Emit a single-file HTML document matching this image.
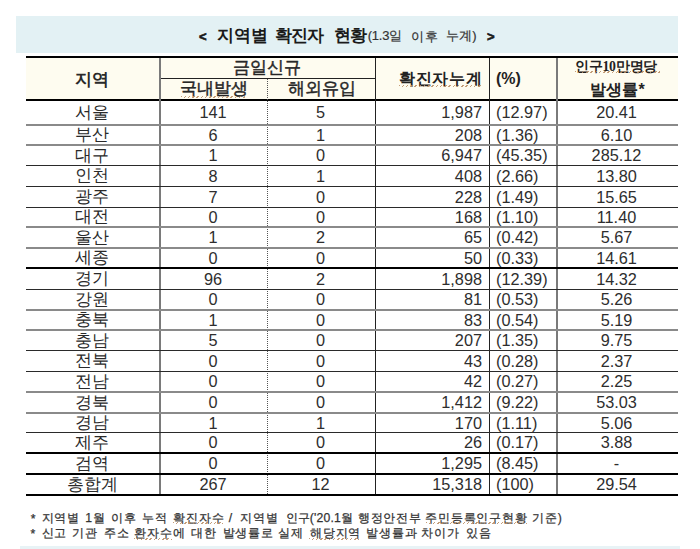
<!DOCTYPE html>
<html><head><meta charset="utf-8"><style>
*{margin:0;padding:0;box-sizing:border-box}
html,body{width:700px;height:549px;background:#fff;overflow:hidden}
body{position:relative;font-family:"Liberation Sans",sans-serif;color:#222}
.a{position:absolute;white-space:nowrap}
.hl{position:absolute;left:26px;width:652px}
.vl{position:absolute}
.c{position:absolute;white-space:nowrap;text-align:center}
.k{font-size:17px;color:#2a2a2a}
.n{font-size:16.3px;color:#2e2e2e}
.u{position:absolute;height:2px;background:repeating-linear-gradient(135deg,#b98c62 0 1px,rgba(255,255,255,0) 1px 3px);opacity:.85}
.m{-webkit-text-stroke:0.45px #222}
.b{font-weight:bold}
</style></head><body>
<div class="a" style="left:16px;top:16px;width:662px;height:37px;background:#e3f1f4"></div>
<div class="a" style="left:26px;top:58px;width:652px;height:41px;background:#fefcf0"></div>
<div class="a" style="left:30.7px;top:512.0px;font-size:12.2px;letter-spacing:0.8px;-webkit-text-stroke:0.25px #333;color:#333">*</div>
<div class="a" style="left:41.5px;top:510.0px;font-size:12.2px;letter-spacing:0.8px;-webkit-text-stroke:0.25px #333;color:#333">지역별</div>
<div class="a" style="left:85.2px;top:510.0px;font-size:12.2px;letter-spacing:0.8px;-webkit-text-stroke:0.25px #333;color:#333">1월</div>
<div class="a" style="left:111.25px;top:510.0px;font-size:12.2px;letter-spacing:0.8px;-webkit-text-stroke:0.25px #333;color:#333">이후</div>
<div class="a" style="left:141.8px;top:510.0px;font-size:12.2px;letter-spacing:0.8px;-webkit-text-stroke:0.25px #333;color:#333">누적</div>
<div class="a" style="left:173.2px;top:510.0px;font-size:12.2px;letter-spacing:0.8px;-webkit-text-stroke:0.25px #333;color:#333">확진자수</div>
<div class="a" style="left:228.7px;top:511.0px;font-size:12.2px;letter-spacing:0.8px;-webkit-text-stroke:0.25px #333;color:#333">/</div>
<div class="a" style="left:240.25px;top:510.0px;font-size:12.2px;letter-spacing:0.8px;-webkit-text-stroke:0.25px #333;color:#333">지역별</div>
<div class="a" style="left:285.5px;top:510.0px;font-size:12.2px;-webkit-text-stroke:0.25px #333;letter-spacing:0.17px;color:#333">인구('20.1월</div>
<div class="a" style="left:357.8px;top:510.0px;font-size:12.2px;letter-spacing:0.8px;-webkit-text-stroke:0.25px #333;color:#333">행정안전부</div>
<div class="a" style="left:425.2px;top:510.0px;font-size:12.2px;letter-spacing:0.8px;-webkit-text-stroke:0.25px #333;color:#333">주민등록인구현황</div>
<div class="a" style="left:532.05px;top:510.0px;font-size:12.2px;letter-spacing:0.8px;-webkit-text-stroke:0.25px #333;color:#333">기준)</div>
<div class="a" style="left:30.4px;top:527.0px;font-size:12.2px;letter-spacing:0.8px;-webkit-text-stroke:0.25px #333;color:#333">*</div>
<div class="a" style="left:41.55px;top:525.2px;font-size:12.2px;letter-spacing:0.8px;-webkit-text-stroke:0.25px #333;color:#333">신고</div>
<div class="a" style="left:72.05px;top:525.2px;font-size:12.2px;letter-spacing:0.8px;-webkit-text-stroke:0.25px #333;color:#333">기관</div>
<div class="a" style="left:104.15px;top:525.2px;font-size:12.2px;letter-spacing:0.8px;-webkit-text-stroke:0.25px #333;color:#333">주소</div>
<div class="a" style="left:134.25px;top:525.2px;font-size:12.2px;letter-spacing:0.8px;-webkit-text-stroke:0.25px #333;color:#333">환자수에</div>
<div class="a" style="left:191.25px;top:525.2px;font-size:12.2px;letter-spacing:0.8px;-webkit-text-stroke:0.25px #333;color:#333">대한</div>
<div class="a" style="left:222.65px;top:525.2px;font-size:12.2px;letter-spacing:0.8px;-webkit-text-stroke:0.25px #333;color:#333">발생률로</div>
<div class="a" style="left:278.35px;top:525.2px;font-size:12.2px;letter-spacing:0.8px;-webkit-text-stroke:0.25px #333;color:#333">실제</div>
<div class="a" style="left:310.0px;top:525.2px;font-size:12.2px;letter-spacing:0.8px;-webkit-text-stroke:0.25px #333;color:#333">해당지역</div>
<div class="a" style="left:366.45px;top:525.2px;font-size:12.2px;letter-spacing:0.8px;-webkit-text-stroke:0.25px #333;color:#333">발생률과</div>
<div class="a" style="left:421.35px;top:525.2px;font-size:12.2px;letter-spacing:0.8px;-webkit-text-stroke:0.25px #333;color:#333">차이가</div>
<div class="a" style="left:466.4px;top:525.2px;font-size:12.2px;letter-spacing:0.8px;-webkit-text-stroke:0.25px #333;color:#333">있음</div>
<div class="a" style="left:199.0px;top:28.7px;font-weight:bold;font-size:13px;-webkit-text-stroke:0.6px #1a1a1a;letter-spacing:0.00px;color:#1a1a1a">&lt;</div>
<div class="a" style="left:216.95px;top:23.55px;font-weight:bold;font-size:17px;letter-spacing:0.05px;color:#1a1a1a">지역별</div>
<div class="a" style="left:275.35px;top:23.55px;font-weight:bold;font-size:17px;letter-spacing:-1.05px;color:#1a1a1a">확진자</div>
<div class="a" style="left:334.05px;top:23.55px;font-weight:bold;font-size:17px;letter-spacing:-0.90px;color:#1a1a1a">현황</div>
<div class="a" style="left:367.7px;top:27.1px;font-size:13px;-webkit-text-stroke:0.2px #333;letter-spacing:-0.20px;color:#333">(1.3일</div>
<div class="a" style="left:411.35px;top:27.6px;font-size:13px;-webkit-text-stroke:0.2px #333;letter-spacing:1.10px;color:#333">이후</div>
<div class="a" style="left:445.65px;top:27.1px;font-size:13px;-webkit-text-stroke:0.2px #333;letter-spacing:0.35px;color:#333">누계)</div>
<div class="a" style="left:486.9px;top:28.7px;font-weight:bold;font-size:13px;-webkit-text-stroke:0.6px #1a1a1a;letter-spacing:0.00px;color:#1a1a1a">&gt;</div>
<div class="hl" style="top:56px;height:2px;background:#000"></div>
<div class="a" style="left:160px;width:215px;top:78px;height:1px;background:#222"></div>
<div class="hl" style="top:99px;height:2px;background:#000"></div>
<div class="vl" style="left:159px;top:58px;width:2px;height:436px;background:#7a7a7a"></div>
<div class="vl" style="left:267px;top:79px;width:1px;height:415px;background:repeating-linear-gradient(#555 0 1px,rgba(255,255,255,0) 1px 2px)"></div>
<div class="vl" style="left:375px;top:58px;width:1px;height:436px;background:#222"></div>
<div class="vl" style="left:489px;top:58px;width:1px;height:436px;background:#222"></div>
<div class="vl" style="left:556px;top:58px;width:2px;height:436px;background:#7a7a7a"></div>
<div class="hl" style="top:124px;height:2px;background:#8a8a8a"></div>
<div class="hl" style="top:144px;height:2px;background:#8a8a8a"></div>
<div class="hl" style="top:165px;height:1px;background:#2a2a2a"></div>
<div class="hl" style="top:186px;height:1px;background:#2a2a2a"></div>
<div class="hl" style="top:207px;height:1px;background:#2a2a2a"></div>
<div class="hl" style="top:226px;height:2px;background:#8a8a8a"></div>
<div class="hl" style="top:247px;height:2px;background:#8a8a8a"></div>
<div class="hl" style="top:267px;height:2px;background:#000"></div>
<div class="hl" style="top:289px;height:1px;background:#2a2a2a"></div>
<div class="hl" style="top:309px;height:2px;background:#8a8a8a"></div>
<div class="hl" style="top:329px;height:2px;background:#8a8a8a"></div>
<div class="hl" style="top:350px;height:1px;background:#2a2a2a"></div>
<div class="hl" style="top:371px;height:1px;background:#2a2a2a"></div>
<div class="hl" style="top:391px;height:2px;background:#8a8a8a"></div>
<div class="hl" style="top:412px;height:2px;background:#8a8a8a"></div>
<div class="hl" style="top:432px;height:1px;background:#2a2a2a"></div>
<div class="hl" style="top:452px;height:2px;background:#000"></div>
<div class="hl" style="top:473px;height:2px;background:#000"></div>
<div class="hl" style="top:494px;height:2px;background:#000"></div>
<div class="c k b" style="left:25px;width:134px;top:59px;height:41px;line-height:41px">지역</div>
<div class="c k m" style="left:159px;width:215px;top:57px;height:21px;line-height:21px">금일신규</div>
<div class="c k m" style="left:160px;width:108px;top:79px;height:20px;line-height:20px">국내발생</div>
<div class="c k m" style="left:268.5px;width:107px;top:79px;height:20px;line-height:20px">해외유입</div>
<div class="u" style="left:181px;top:96px;width:64px"></div>
<div class="a b" style="left:375px;width:115px;top:58px;height:41px;line-height:41px;text-align:right;padding-right:7.7px;font-size:16px;letter-spacing:0.7px">확진자누계</div>
<div class="u" style="left:399px;top:85px;width:82px"></div>
<div class="a b" style="left:496px;top:58px;height:41px;line-height:41px;font-size:16px">(%)</div>
<div class="c b" style="left:555.5px;width:121px;top:57px;height:19px;line-height:19px;font-size:13.8px;letter-spacing:-0.2px">인구<span style="font-family:'Liberation Serif',serif">10</span>만명당</div>
<div class="u" style="left:575px;top:71px;width:85px"></div>
<div class="c b" style="left:557px;width:121px;top:80px;height:20px;line-height:20px;font-size:16px">발생률*</div>
<div class="c k" style="left:25px;width:134px;top:101px;height:23px;line-height:23px">서울</div>
<div class="c n" style="left:159px;width:108px;top:101px;height:23px;line-height:23px">141</div>
<div class="c n" style="left:267px;width:107px;top:101px;height:23px;line-height:23px">5</div>
<div class="a n" style="left:375px;width:115px;top:101px;height:23px;line-height:23px;text-align:right;padding-right:8px">1,987</div>
<div class="a n" style="left:496px;top:101px;height:23px;line-height:23px">(12.97)</div>
<div class="c n" style="left:556px;width:121px;top:101px;height:23px;line-height:23px">20.41</div>
<div class="c k" style="left:25px;width:134px;top:126px;height:18px;line-height:18px">부산</div>
<div class="c n" style="left:159px;width:108px;top:126px;height:18px;line-height:18px">6</div>
<div class="c n" style="left:267px;width:107px;top:126px;height:18px;line-height:18px">1</div>
<div class="a n" style="left:375px;width:115px;top:126px;height:18px;line-height:18px;text-align:right;padding-right:8px">208</div>
<div class="a n" style="left:496px;top:126px;height:18px;line-height:18px">(1.36)</div>
<div class="c n" style="left:556px;width:121px;top:126px;height:18px;line-height:18px">6.10</div>
<div class="c k" style="left:25px;width:134px;top:146px;height:19px;line-height:19px">대구</div>
<div class="c n" style="left:159px;width:108px;top:146px;height:19px;line-height:19px">1</div>
<div class="c n" style="left:267px;width:107px;top:146px;height:19px;line-height:19px">0</div>
<div class="a n" style="left:375px;width:115px;top:146px;height:19px;line-height:19px;text-align:right;padding-right:8px">6,947</div>
<div class="a n" style="left:496px;top:146px;height:19px;line-height:19px">(45.35)</div>
<div class="c n" style="left:556px;width:121px;top:146px;height:19px;line-height:19px">285.12</div>
<div class="c k" style="left:25px;width:134px;top:166px;height:20px;line-height:20px">인천</div>
<div class="c n" style="left:159px;width:108px;top:166px;height:20px;line-height:20px">8</div>
<div class="c n" style="left:267px;width:107px;top:166px;height:20px;line-height:20px">1</div>
<div class="a n" style="left:375px;width:115px;top:166px;height:20px;line-height:20px;text-align:right;padding-right:8px">408</div>
<div class="a n" style="left:496px;top:166px;height:20px;line-height:20px">(2.66)</div>
<div class="c n" style="left:556px;width:121px;top:166px;height:20px;line-height:20px">13.80</div>
<div class="c k" style="left:25px;width:134px;top:187px;height:20px;line-height:20px">광주</div>
<div class="c n" style="left:159px;width:108px;top:187px;height:20px;line-height:20px">7</div>
<div class="c n" style="left:267px;width:107px;top:187px;height:20px;line-height:20px">0</div>
<div class="a n" style="left:375px;width:115px;top:187px;height:20px;line-height:20px;text-align:right;padding-right:8px">228</div>
<div class="a n" style="left:496px;top:187px;height:20px;line-height:20px">(1.49)</div>
<div class="c n" style="left:556px;width:121px;top:187px;height:20px;line-height:20px">15.65</div>
<div class="c k" style="left:25px;width:134px;top:208px;height:18px;line-height:18px">대전</div>
<div class="c n" style="left:159px;width:108px;top:208px;height:18px;line-height:18px">0</div>
<div class="c n" style="left:267px;width:107px;top:208px;height:18px;line-height:18px">0</div>
<div class="a n" style="left:375px;width:115px;top:208px;height:18px;line-height:18px;text-align:right;padding-right:8px">168</div>
<div class="a n" style="left:496px;top:208px;height:18px;line-height:18px">(1.10)</div>
<div class="c n" style="left:556px;width:121px;top:208px;height:18px;line-height:18px">11.40</div>
<div class="c k" style="left:25px;width:134px;top:228px;height:19px;line-height:19px">울산</div>
<div class="c n" style="left:159px;width:108px;top:228px;height:19px;line-height:19px">1</div>
<div class="c n" style="left:267px;width:107px;top:228px;height:19px;line-height:19px">2</div>
<div class="a n" style="left:375px;width:115px;top:228px;height:19px;line-height:19px;text-align:right;padding-right:8px">65</div>
<div class="a n" style="left:496px;top:228px;height:19px;line-height:19px">(0.42)</div>
<div class="c n" style="left:556px;width:121px;top:228px;height:19px;line-height:19px">5.67</div>
<div class="c k" style="left:25px;width:134px;top:249px;height:18px;line-height:18px">세종</div>
<div class="c n" style="left:159px;width:108px;top:249px;height:18px;line-height:18px">0</div>
<div class="c n" style="left:267px;width:107px;top:249px;height:18px;line-height:18px">0</div>
<div class="a n" style="left:375px;width:115px;top:249px;height:18px;line-height:18px;text-align:right;padding-right:8px">50</div>
<div class="a n" style="left:496px;top:249px;height:18px;line-height:18px">(0.33)</div>
<div class="c n" style="left:556px;width:121px;top:249px;height:18px;line-height:18px">14.61</div>
<div class="c k" style="left:25px;width:134px;top:269px;height:20px;line-height:20px">경기</div>
<div class="c n" style="left:159px;width:108px;top:269px;height:20px;line-height:20px">96</div>
<div class="c n" style="left:267px;width:107px;top:269px;height:20px;line-height:20px">2</div>
<div class="a n" style="left:375px;width:115px;top:269px;height:20px;line-height:20px;text-align:right;padding-right:8px">1,898</div>
<div class="a n" style="left:496px;top:269px;height:20px;line-height:20px">(12.39)</div>
<div class="c n" style="left:556px;width:121px;top:269px;height:20px;line-height:20px">14.32</div>
<div class="c k" style="left:25px;width:134px;top:290px;height:19px;line-height:19px">강원</div>
<div class="c n" style="left:159px;width:108px;top:290px;height:19px;line-height:19px">0</div>
<div class="c n" style="left:267px;width:107px;top:290px;height:19px;line-height:19px">0</div>
<div class="a n" style="left:375px;width:115px;top:290px;height:19px;line-height:19px;text-align:right;padding-right:8px">81</div>
<div class="a n" style="left:496px;top:290px;height:19px;line-height:19px">(0.53)</div>
<div class="c n" style="left:556px;width:121px;top:290px;height:19px;line-height:19px">5.26</div>
<div class="c k" style="left:25px;width:134px;top:311px;height:18px;line-height:18px">충북</div>
<div class="c n" style="left:159px;width:108px;top:311px;height:18px;line-height:18px">1</div>
<div class="c n" style="left:267px;width:107px;top:311px;height:18px;line-height:18px">0</div>
<div class="a n" style="left:375px;width:115px;top:311px;height:18px;line-height:18px;text-align:right;padding-right:8px">83</div>
<div class="a n" style="left:496px;top:311px;height:18px;line-height:18px">(0.54)</div>
<div class="c n" style="left:556px;width:121px;top:311px;height:18px;line-height:18px">5.19</div>
<div class="c k" style="left:25px;width:134px;top:331px;height:19px;line-height:19px">충남</div>
<div class="c n" style="left:159px;width:108px;top:331px;height:19px;line-height:19px">5</div>
<div class="c n" style="left:267px;width:107px;top:331px;height:19px;line-height:19px">0</div>
<div class="a n" style="left:375px;width:115px;top:331px;height:19px;line-height:19px;text-align:right;padding-right:8px">207</div>
<div class="a n" style="left:496px;top:331px;height:19px;line-height:19px">(1.35)</div>
<div class="c n" style="left:556px;width:121px;top:331px;height:19px;line-height:19px">9.75</div>
<div class="c k" style="left:25px;width:134px;top:351px;height:20px;line-height:20px">전북</div>
<div class="c n" style="left:159px;width:108px;top:351px;height:20px;line-height:20px">0</div>
<div class="c n" style="left:267px;width:107px;top:351px;height:20px;line-height:20px">0</div>
<div class="a n" style="left:375px;width:115px;top:351px;height:20px;line-height:20px;text-align:right;padding-right:8px">43</div>
<div class="a n" style="left:496px;top:351px;height:20px;line-height:20px">(0.28)</div>
<div class="c n" style="left:556px;width:121px;top:351px;height:20px;line-height:20px">2.37</div>
<div class="c k" style="left:25px;width:134px;top:372px;height:19px;line-height:19px">전남</div>
<div class="c n" style="left:159px;width:108px;top:372px;height:19px;line-height:19px">0</div>
<div class="c n" style="left:267px;width:107px;top:372px;height:19px;line-height:19px">0</div>
<div class="a n" style="left:375px;width:115px;top:372px;height:19px;line-height:19px;text-align:right;padding-right:8px">42</div>
<div class="a n" style="left:496px;top:372px;height:19px;line-height:19px">(0.27)</div>
<div class="c n" style="left:556px;width:121px;top:372px;height:19px;line-height:19px">2.25</div>
<div class="c k" style="left:25px;width:134px;top:393px;height:19px;line-height:19px">경북</div>
<div class="c n" style="left:159px;width:108px;top:393px;height:19px;line-height:19px">0</div>
<div class="c n" style="left:267px;width:107px;top:393px;height:19px;line-height:19px">0</div>
<div class="a n" style="left:375px;width:115px;top:393px;height:19px;line-height:19px;text-align:right;padding-right:8px">1,412</div>
<div class="a n" style="left:496px;top:393px;height:19px;line-height:19px">(9.22)</div>
<div class="c n" style="left:556px;width:121px;top:393px;height:19px;line-height:19px">53.03</div>
<div class="c k" style="left:25px;width:134px;top:414px;height:18px;line-height:18px">경남</div>
<div class="c n" style="left:159px;width:108px;top:414px;height:18px;line-height:18px">1</div>
<div class="c n" style="left:267px;width:107px;top:414px;height:18px;line-height:18px">1</div>
<div class="a n" style="left:375px;width:115px;top:414px;height:18px;line-height:18px;text-align:right;padding-right:8px">170</div>
<div class="a n" style="left:496px;top:414px;height:18px;line-height:18px">(1.11)</div>
<div class="c n" style="left:556px;width:121px;top:414px;height:18px;line-height:18px">5.06</div>
<div class="c k" style="left:25px;width:134px;top:433px;height:19px;line-height:19px">제주</div>
<div class="c n" style="left:159px;width:108px;top:433px;height:19px;line-height:19px">0</div>
<div class="c n" style="left:267px;width:107px;top:433px;height:19px;line-height:19px">0</div>
<div class="a n" style="left:375px;width:115px;top:433px;height:19px;line-height:19px;text-align:right;padding-right:8px">26</div>
<div class="a n" style="left:496px;top:433px;height:19px;line-height:19px">(0.17)</div>
<div class="c n" style="left:556px;width:121px;top:433px;height:19px;line-height:19px">3.88</div>
<div class="c k" style="left:25px;width:134px;top:454px;height:19px;line-height:19px">검역</div>
<div class="c n" style="left:159px;width:108px;top:454px;height:19px;line-height:19px">0</div>
<div class="c n" style="left:267px;width:107px;top:454px;height:19px;line-height:19px">0</div>
<div class="a n" style="left:375px;width:115px;top:454px;height:19px;line-height:19px;text-align:right;padding-right:8px">1,295</div>
<div class="a n" style="left:496px;top:454px;height:19px;line-height:19px">(8.45)</div>
<div class="c n" style="left:556px;width:121px;top:454px;height:19px;line-height:19px">-</div>
<div class="c k" style="left:25px;width:134px;top:475px;height:19px;line-height:19px">총합계</div>
<div class="c n" style="left:159px;width:108px;top:475px;height:19px;line-height:19px">267</div>
<div class="c n" style="left:267px;width:107px;top:475px;height:19px;line-height:19px">12</div>
<div class="a n" style="left:375px;width:115px;top:475px;height:19px;line-height:19px;text-align:right;padding-right:8px">15,318</div>
<div class="a n" style="left:496px;top:475px;height:19px;line-height:19px">(100)</div>
<div class="c n" style="left:556px;width:121px;top:475px;height:19px;line-height:19px">29.54</div>
<div class="u" style="left:173px;top:522px;width:50px"></div>
<div class="u" style="left:426px;top:522px;width:101px"></div>
<div class="u" style="left:134px;top:538px;width:38px"></div>
<div class="u" style="left:309px;top:538px;width:50px"></div>
<div class="a" style="left:20px;top:546px;width:660px;height:3px;background:#e8f3f6"></div>
</body></html>
